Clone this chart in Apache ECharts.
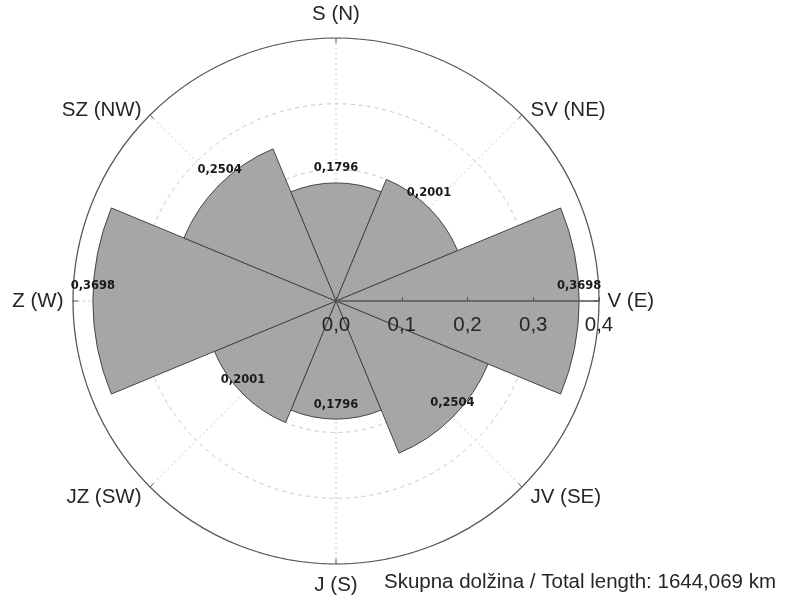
<!DOCTYPE html>
<html>
<head>
<meta charset="utf-8">
<script src="https://cdn.jsdelivr.net/npm/echarts@6/dist/echarts.min.js"></script>
<style>
  html, body { margin: 0; padding: 0; background: #fff; }
  #chart { width: 790px; height: 603px; }
</style>
</head>
<body>
<div id="chart"></div>
<script>
// Direction categories, clockwise from north (Slovenian with English in brackets)
const directions = ['S (N)', 'SV (NE)', 'V (E)', 'JV (SE)', 'J (S)', 'JZ (SW)', 'Z (W)', 'SZ (NW)'];
// Relative share of total length per direction (axial data, opposite sectors mirror)
const shares = [0.1796, 0.2001, 0.3698, 0.2504, 0.1796, 0.2001, 0.3698, 0.2504];
const radiusTicks = [0, 0.1, 0.2, 0.3, 0.4];
const radiusMax = 0.4;
const footnote = 'Skupna dolžina / Total length: 1644,069 km';

const comma = v => String(v).replace('.', ',');
const CX = 336, CY = 301, R = 263;
const sans = '"Liberation Sans", Arial, sans-serif';
const FS = 20.5;
const TEXT = '#262626';

// Placement of each compass label around the outer ring, by its index (clockwise from N)
function compassLabel(i) {
  if (i === 0) return { position: 'top', distance: 13 };
  if (i === 4) return { position: 'bottom', distance: 10 };
  const side = i < 4 ? 'right' : 'left';
  const up = (i === 1 || i === 7);
  const horizontal = (i === 2 || i === 6);
  return {
    position: side,
    distance: horizontal ? (side === 'right' ? 8 : 9) : 8,
    offset: [0, horizontal ? 0 : (up ? -5 : 10)]
  };
}

const chart = echarts.init(document.getElementById('chart'), null, { renderer: 'canvas' });

chart.setOption({
  animation: false,
  backgroundColor: '#fff',
  polar: [
    { center: [CX, CY], radius: R },   // sectors + direction ring
    { center: [CX, CY], radius: R },   // background grid
    { center: [CX, CY], radius: R }    // radius scale along east
  ],
  angleAxis: [
    {
      polarIndex: 0, type: 'category', data: directions,
      startAngle: 112.5, clockwise: true, z: 3,
      axisLine: { show: true, lineStyle: { color: '#555', width: 1.2 } },
      axisTick: { show: true, alignWithLabel: true, inside: true, length: 5, lineStyle: { color: '#555' } },
      axisLabel: { show: false },
      splitLine: { show: false }
    },
    {
      polarIndex: 1, type: 'value', min: 0, max: 360, interval: 45,
      startAngle: 0, z: 0,
      axisLine: { show: false }, axisTick: { show: false }, axisLabel: { show: false },
      splitLine: { show: true, lineStyle: { color: '#c8c8c8', type: [2, 3], width: 1 } }
    },
    {
      polarIndex: 2, type: 'value', min: 0, max: 360, interval: 90,
      startAngle: 0,
      axisLine: { show: false }, axisTick: { show: false }, axisLabel: { show: false },
      splitLine: { show: false }
    }
  ],
  radiusAxis: [
    {
      polarIndex: 0, type: 'value', min: 0, max: radiusMax,
      axisLine: { show: false }, axisTick: { show: false }, axisLabel: { show: false },
      splitLine: { show: false }
    },
    {
      polarIndex: 1, type: 'value', min: 0, max: radiusMax, interval: 0.1, z: 0,
      axisLine: { show: false }, axisTick: { show: false }, axisLabel: { show: false },
      splitLine: { show: true, lineStyle: { color: '#c8c8c8', type: [4, 4], width: 1 } }
    },
    {
      polarIndex: 2, type: 'value', min: 0, max: radiusMax, interval: 0.1, z: 10,
      axisLine: { show: true, lineStyle: { color: '#555', width: 1.5 } },
      axisTick: { show: true, inside: false, length: 4, lineStyle: { color: '#555' } },
      axisLabel: {
        show: true, margin: -14, verticalAlign: 'top', color: TEXT, fontSize: FS, fontFamily: sans,
        formatter: v => radiusTicks.includes(+v.toFixed(1)) ? v.toFixed(1).replace('.', ',') : ''
      },
      splitLine: { show: false }
    }
  ],
  series: [
    {
      type: 'bar', coordinateSystem: 'polar', polarIndex: 0,
      data: shares, barWidth: '100%', barCategoryGap: '0%', z: 2,
      itemStyle: { color: '#a6a6a6', borderColor: '#454545', borderWidth: 1 }
    },
    {
      // value labels at the tip of each sector
      type: 'scatter', coordinateSystem: 'polar', polarIndex: 0, z: 11,
      data: shares.map((v, i) => [v, directions[i]]),
      symbolSize: 1, itemStyle: { color: 'rgba(0,0,0,0)', opacity: 1 },
      label: {
        show: true, position: 'top', distance: 8,
        formatter: p => comma(p.value[0].toFixed(4)),
        color: '#1a1a1a', fontSize: 11.5, fontWeight: 'bold', fontFamily: '"DejaVu Sans", Verdana, sans-serif'
      }
    },
    {
      // compass labels around the outer ring
      type: 'scatter', coordinateSystem: 'polar', polarIndex: 0, z: 11,
      data: directions.map((d, i) => ({
        value: [radiusMax, d],
        label: compassLabel(i)
      })),
      symbolSize: 1, itemStyle: { color: 'rgba(0,0,0,0)', opacity: 1 },
      label: {
        show: true, formatter: p => p.value[1],
        color: TEXT, fontSize: FS, fontFamily: sans
      }
    }
  ],
  graphic: [
    {
      type: 'text', right: 14, top: 572,
      style: { text: footnote, fill: TEXT, font: FS + 'px ' + sans }
    }
  ]
});
</script>
</body>
</html>
